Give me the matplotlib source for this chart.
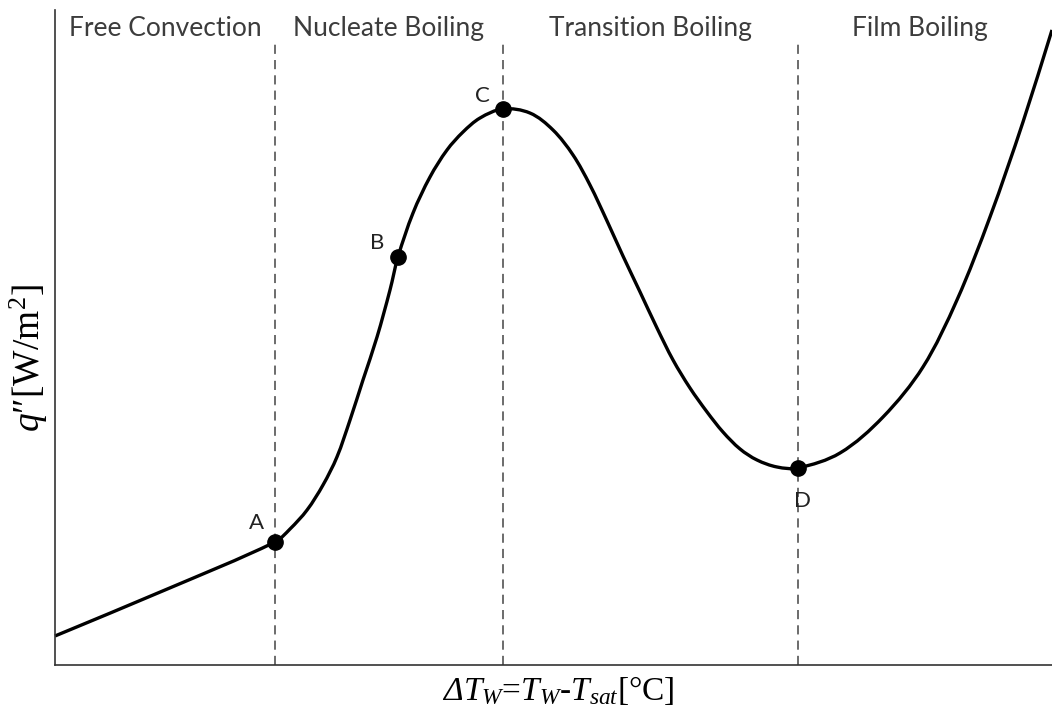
import matplotlib.pyplot as plt
import numpy as np
from matplotlib.path import Path
from matplotlib.patches import PathPatch

plt.rcParams['mathtext.fontset'] = 'custom'
plt.rcParams['mathtext.rm'] = 'Liberation Serif'
plt.rcParams['mathtext.it'] = 'Liberation Serif:italic'

# boiling curve (arbitrary units, 0..100 on both axes)
dT = [0.0, 11.03, 22.07, 23.57, 25.28, 26.88, 28.28, 29.59, 30.89, 32.30,
      33.60, 34.40, 35.91, 37.61, 39.32, 40.92, 42.63, 44.93, 47.64, 49.95,
      51.96, 53.66, 55.37, 56.97, 58.68, 60.38, 61.99, 63.69, 65.40, 67.00,
      68.71, 70.41, 72.42, 74.52, 78.74, 83.05, 87.06, 90.47, 93.78, 97.09,
      100.0]
q = [4.43, 11.45, 18.78, 20.76, 23.66, 27.48, 31.76, 37.40, 43.51, 50.08,
     57.25, 62.29, 69.01, 74.50, 78.63, 81.37, 83.51, 84.89, 84.27, 81.68,
     77.86, 73.28, 67.79, 62.44, 56.95, 51.45, 46.56, 42.29, 38.63, 35.57,
     32.98, 31.30, 30.23, 30.08, 32.37, 37.86, 45.50, 55.73, 68.40, 82.90,
     96.95]

point_names = ['A', 'B', 'C', 'D']
point_idx = [2, 11, 17, 33]

regions = ['Free Convection', 'Nucleate Boiling', 'Transition Boiling', 'Film Boiling']
region_x = [11.03, 33.50, 59.68, 86.76]
bounds = [22.07, 44.93, 74.52]


def smooth_path(ax, xs, ys):
    # smooth curve through the read points (cubic bezier, built in pixel space)
    pts = ax.transData.transform(np.column_stack([xs, ys]))
    n = len(pts)
    tang = np.zeros_like(pts)
    for i in range(n):
        d = pts[min(i + 1, n - 1)] - pts[max(i - 1, 0)]
        tang[i] = d / np.hypot(*d)
    verts = [pts[0]]
    codes = [Path.MOVETO]
    for i in range(n - 1):
        L = np.hypot(*(pts[i + 1] - pts[i])) / 3
        verts += [pts[i] + tang[i] * L, pts[i + 1] - tang[i + 1] * L, pts[i + 1]]
        codes += [Path.CURVE4] * 3
    return Path(ax.transData.inverted().transform(np.array(verts)), codes)


fig = plt.figure(figsize=(10.52, 7.11), dpi=100)
ax = fig.add_axes([55 / 1052, 46 / 711, 1 - 55 / 1052, 655 / 711])
ax.set_xlim(0, 100)
ax.set_ylim(0, 100)

for b in bounds:
    ax.plot([b, b], [0, 95.1], color='#444444', lw=1.1, dashes=(6, 4))

curve = PathPatch(smooth_path(ax, dT, q), facecolor='none', edgecolor='black',
                  lw=2.4, clip_on=False)
ax.add_patch(curve)

offsets = [(-13, 14), (-15, 10), (-15, 9), (3, -24)]
for name, i, off in zip(point_names, point_idx, offsets):
    ax.plot(dT[i], q[i], 'o', color='black', ms=11)
    ax.annotate(name, (dT[i], q[i]), xytext=off, textcoords='offset points',
                fontsize=16, family='Lato', color='#222222',
                ha='center', va='center')

for name, x in zip(regions, region_x):
    ax.text(x, 97.2, name, ha='center', va='center', fontsize=19,
            family='Lato', color='#3c3c3c')

for s in ['top', 'right']:
    ax.spines[s].set_visible(False)
for s in ['left', 'bottom']:
    ax.spines[s].set_color('#333333')
    ax.spines[s].set_linewidth(1.2)
ax.set_xticks([])
ax.set_yticks([])

# x label: italic delta drawn on its own, the rest follows right after it
serif = ['Liberation Serif', 'DejaVu Serif']
delta = fig.text(443 / 1052, 11 / 711, "Δ", fontsize=24, family=serif,
                 style='italic', ha='left', va='baseline')
fig.canvas.draw()
bb = delta.get_window_extent()
fig.text(bb.x1 / 1052, 11 / 711, r"$T_W$=$T_W$-$T_{sat}$[°C]",
         fontsize=24, family=serif, ha='left', va='baseline')

fig.text(29 / 1052, 1 - 358 / 711, "$q$″[W/m$^2$]", rotation=90,
         fontsize=27, family=serif, ha='center', va='center')

fig.savefig('out.png', dpi=100)
